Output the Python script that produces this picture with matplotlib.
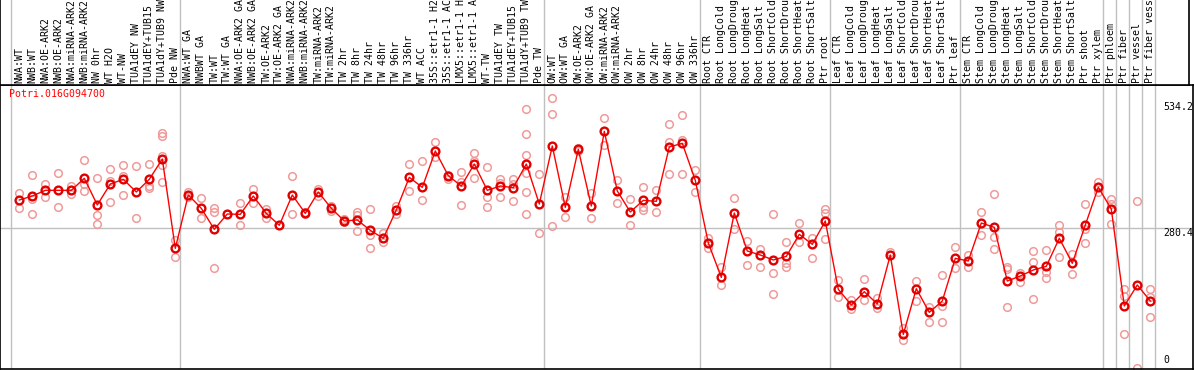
import matplotlib

matplotlib.use("Agg")
import matplotlib.pyplot as plt

GENE = "Potri.016G094700"

SAMPLES = [
    "NWA:WT", "NWB:WT", "NWA:OE-ARK2", "NWB:OE-ARK2", "NWA:miRNA-ARK2",
    "NWB:miRNA-ARK2", "NW 0hr", "WT H2O", "WT-NW", "TUA1dEY NW",
    "TUA1dEY+TUB15 NW", "TUA1dY+TUB9 NW", "Pde NW",
    "NWA:WT GA", "NWBWT GA", "TW:WT", "TW:WT GA", "NWA:OE-ARK2 GA",
    "NWB:OE-ARK2 GA", "TW:OE-ARK2", "TW:OE-ARK2 GA", "NWA:miRNA-ARK2 GA",
    "NWB:miRNA-ARK2 GA", "TW:miRNA-ARK2", "TW:miRNA-ARK2 GA", "TW 2hr",
    "TW 8hr", "TW 24hr", "TW 48hr", "TW 96hr", "TW 336hr", "WT ACC",
    "35S::etr1-1 H2O", "35S::etr1-1 ACC", "LMX5::etr1-1 H2O",
    "LMX5::etr1-1 ACC", "WT-TW", "TUA1dEY TW", "TUA1dEY+TUB15 TW",
    "TUA1dY+TUB9 TW", "Pde TW",
    "OW:WT", "OW:WT GA", "OW:OE-ARK2", "OW:OE-ARK2 GA", "OW:miRNA-ARK2",
    "OW:miRNA-ARK2 GA", "OW 2hr", "OW 8hr", "OW 24hr", "OW 48hr", "OW 96hr",
    "OW 336hr",
    "Root CTR", "Root LongCold", "Root LongDrought", "Root LongHeat",
    "Root LongSalt", "Root ShortCold", "Root ShortDrought", "Root ShortHeat",
    "Root ShortSalt", "Ptr root",
    "Leaf CTR", "Leaf LongCold", "Leaf LongDrought", "Leaf LongHeat",
    "Leaf LongSalt", "Leaf ShortCold", "Leaf ShortDrought", "Leaf ShortHeat",
    "Leaf ShortSalt", "Ptr leaf",
    "Stem CTR", "Stem LongCold", "Stem LongDrought", "Stem LongHeat",
    "Stem LongSalt", "Stem ShortCold", "Stem ShortDrought", "Stem ShortHeat",
    "Stem ShortSalt", "Ptr shoot", "Ptr xylem",
    "Ptr phloem", "Ptr fiber", "Ptr vessel", "Ptr fiber vessel",
]

MEANS = [
    337.2, 345.2, 356.6, 356.6, 356.6, 380.7, 327.2, 369.3, 378.7, 353.3,
    378.7, 419.5, 240.2, 347.2, 320.5, 278.3, 309.1, 308.4, 345.2, 310.4,
    286.4, 347.2, 310.4, 353.3, 320.5, 295.0, 297.1, 276.3, 260.3, 317.1,
    382.7, 362.6, 435.5, 386.0, 365.3, 409.4, 356.6, 365.3, 362.0, 409.4,
    329.2, 445.6, 322.5, 438.9, 325.2, 475.0, 355.3, 313.1, 336.5, 334.5,
    443.6, 450.9, 376.7, 250.9, 182.0, 311.1, 234.8, 226.8, 216.8, 224.1,
    268.3, 248.2, 295.0, 157.9, 126.5, 153.2, 128.5, 226.8, 67.6, 159.2,
    111.7, 134.5, 220.1, 214.8, 291.0, 282.3, 174.6, 184.7, 196.7, 204.1,
    260.3, 210.1, 287.0, 362.6, 319.1, 124.5, 166.6, 134.5,
]

REPLICATES = [
    [350.6, 320.5], [387.4, 308.4, 338.5], [369.3, 343.9], [390.7, 322.5],
    [366.0, 349.9], [416.8, 355.3, 369.3], [380.7, 307.1, 288.4],
    [399.4, 375.3, 332.5], [407.4, 386.0, 346.6], [404.8, 300.4],
    [409.4, 365.3, 362.0], [471.0, 465.6, 426.2, 407.4, 374.0],
    [256.9, 222.1], [353.9, 343.9], [340.5, 300.4], [321.8, 312.4, 200.1],
    [309.1], [330.5, 286.4], [359.3, 330.5], [319.1, 301.7], [286.4],
    [385.4, 308.4], [313.8, 308.4], [359.3, 345.2], [325.8, 315.1],
    [298.4, 293.7], [313.8, 307.1, 275.0], [318.5, 267.0, 240.2],
    [271.6, 252.2], [325.8, 309.1], [408.8, 355.9], [414.8, 336.5],
    [453.6, 424.2], [387.4, 379.3], [392.7, 374.0, 327.2],
    [430.9, 415.5, 380.7], [403.4, 343.9, 322.5], [379.3, 372.0, 342.5],
    [379.3, 369.3, 334.5], [519.8, 469.0, 427.5, 390.7, 353.9, 308.4],
    [388.7, 270.3], [541.2, 509.1, 284.3], [342.5, 302.4], [442.2, 435.5],
    [350.6, 300.4], [501.1, 447.6], [376.7, 330.5], [338.5, 287.0],
    [362.6, 323.8, 317.1], [356.6, 312.4], [489.1, 454.3, 388.7],
    [507.8, 457.6, 388.7], [397.4, 353.9], [260.3, 241.5], [203.4, 166.6],
    [340.5, 279.0], [254.9, 206.7], [238.9, 203.4], [308.4, 190.0, 147.9],
    [252.2, 210.1, 203.4], [290.4, 253.6], [260.3, 220.1],
    [319.1, 310.4, 258.9], [176.6, 143.2], [136.5, 118.4], [178.6, 136.5],
    [139.8, 121.1], [233.5], [80.9, 56.2], [174.6, 134.5], [123.1, 93.0],
    [186.7, 125.1, 91.7], [242.2, 201.4], [226.8, 203.4], [312.4, 267.0],
    [349.2, 262.3, 238.9], [203.4, 198.7, 121.8], [190.0, 173.3],
    [234.8, 212.1, 138.5], [236.8, 193.4, 180.0], [287.0, 272.3, 223.5],
    [228.1, 188.0], [328.5, 279.0, 250.9], [374.0, 352.6],
    [339.2, 329.2, 288.4], [158.6, 145.2, 68.3], [335.2, 0.0],
    [158.6, 143.2, 101.7],
]

# last sample index of each block, a grey separator follows it
GROUP_ENDS = [12, 40, 52, 62, 72, 83, 84, 85, 86, 87]
Y_TICKS = [534.2, 280.4, 0]

W, H = 1194, 370
FONT = "DejaVu Sans Mono"
GRID = "#c0c0c0"


def setup(a, right_px):
    a.set_xlim(-19.3 / 13, (right_px - 19.3) / 13)
    a.set_xticks([])
    a.set_yticks([])
    for s in a.spines.values():
        s.set_color("black")
        s.set_linewidth(1.2)
    a.axvline(-0.62, color=GRID, lw=1)
    for g in GROUP_ENDS:
        a.axvline(g + 0.38, color=GRID, lw=1)


def main() -> None:
    fig = plt.figure(figsize=(W / 100, H / 100), dpi=100)
    top_px, bottom_px = 85, 369
    data_right, label_right = 1193, 1189

    ax = fig.add_axes([0, (H - bottom_px) / H, data_right / W, (bottom_px - top_px) / H])
    lab = fig.add_axes([0, (H - top_px) / H, label_right / W, top_px / H])
    setup(ax, data_right)
    setup(lab, label_right)
    lab.spines["top"].set_visible(False)
    ax.set_ylim(-2, 568)
    lab.set_ylim(0, 1)

    ax.axhline(Y_TICKS[1], color=GRID, lw=1)

    xs = list(range(len(SAMPLES)))
    for i, reps in enumerate(REPLICATES):
        ax.plot([i] * len(reps), reps, "o", ms=5.5, mfc="none", mec="#f09a9a",
                mew=1.1, clip_on=False, zorder=2)
    ax.plot(xs, MEANS, "-", color="red", lw=1, zorder=3)
    ax.plot(xs, MEANS, "o", ms=5.6, mfc="none", mec="#e00000", mew=1.7, zorder=4)

    for i, name in enumerate(SAMPLES):
        lab.text(i, 2 / 85, name, rotation=90, ha="center", va="bottom",
                 fontsize=7.1, family=FONT, clip_on=True)

    x0 = -19.3 / 13
    ax.text(x0 + 9 / 13, 560, GENE, color="red", fontsize=7.1, family=FONT,
            ha="left", va="top")

    tx = (1163 - 19.3) / 13
    ax.text(tx, Y_TICKS[0], "534.2", fontsize=7.1, family=FONT, va="top", ha="left")
    ax.text(tx, Y_TICKS[1], "280.4", fontsize=7.1, family=FONT, va="top", ha="left")
    ax.text(tx, 6, "0", fontsize=7.1, family=FONT, va="bottom", ha="left")

    fig.savefig("out.png", dpi=100)
    plt.close(fig)


if __name__ == "__main__":
    main()
